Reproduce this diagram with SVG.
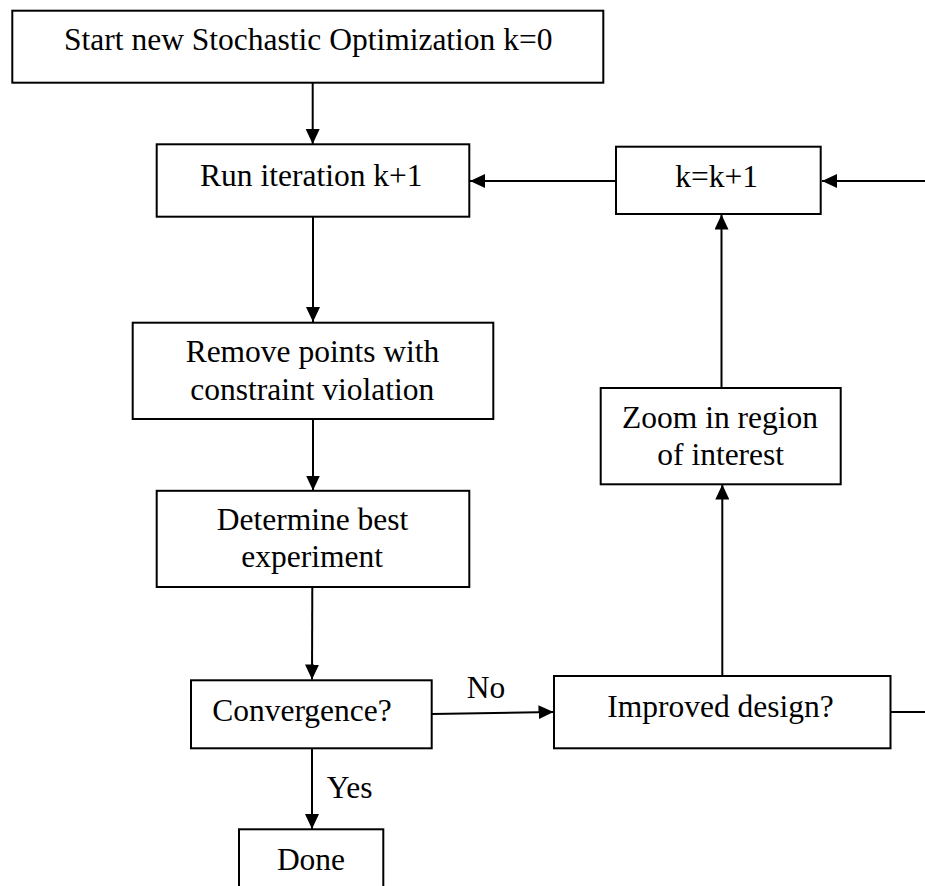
<svg xmlns="http://www.w3.org/2000/svg" width="925" height="886" viewBox="0 0 925 886">
<style>
.box{fill:#fff;stroke:#000;stroke-width:2}
.t{font-family:"Liberation Serif","Times New Roman",serif;font-size:31.5px;fill:#000;text-anchor:middle}
.l{font-family:"Liberation Serif","Times New Roman",serif;font-size:31.5px;fill:#000}
.c{fill:none;stroke:#000;stroke-width:2}
</style>
<defs>
<marker id="ah" viewBox="0 0 15 14" refX="15" refY="7" markerWidth="15" markerHeight="14" markerUnits="userSpaceOnUse" orient="auto">
<path d="M0,0 L15,7 L0,14 Z" fill="#000"/>
</marker>
</defs>
<rect width="925" height="886" fill="#fff"/>
<g id="connectors">
<line class="c" x1="312.7" y1="83" x2="312.7" y2="144" marker-end="url(#ah)"/>
<line class="c" x1="616" y1="181" x2="470" y2="181" marker-end="url(#ah)"/>
<line class="c" x1="926" y1="181" x2="822" y2="181" marker-end="url(#ah)"/>
<line class="c" x1="313" y1="217" x2="313" y2="322" marker-end="url(#ah)"/>
<line class="c" x1="313" y1="419" x2="313" y2="490.5" marker-end="url(#ah)"/>
<line class="c" x1="312.3" y1="587" x2="312" y2="679.5" marker-end="url(#ah)"/>
<line class="c" x1="432" y1="714" x2="553.5" y2="712" marker-end="url(#ah)"/>
<line class="c" x1="312" y1="748.5" x2="312" y2="829" marker-end="url(#ah)"/>
<line class="c" x1="722.3" y1="676" x2="722.3" y2="484.5" marker-end="url(#ah)"/>
<line class="c" x1="721.5" y1="388" x2="721.5" y2="214.5" marker-end="url(#ah)"/>
<line class="c" x1="890.5" y1="712" x2="926" y2="712"/>
<text class="l" x="466.7" y="698.3">No</text>
<text class="l" x="326.7" y="798.3">Yes</text>
</g>
<g id="start">
<rect class="box" x="12.3" y="10.7" width="591" height="72"/>
<text class="t" x="308.3" y="50">Start new Stochastic Optimization k=0</text>
</g>
<g id="run">
<rect class="box" x="156.7" y="144.3" width="312.6" height="72.4"/>
<text class="t" x="311.3" y="185.7">Run iteration k+1</text>
</g>
<g id="kinc">
<rect class="box" x="616" y="146.7" width="204.7" height="67.3"/>
<text class="t" x="716.7" y="186.7">k=k+1</text>
</g>
<g id="remove">
<rect class="box" x="132.7" y="322.7" width="360.6" height="96.3"/>
<text class="t" x="312.5" y="361.7">Remove points with</text>
<text class="t" x="312.3" y="400">constraint violation</text>
</g>
<g id="determine">
<rect class="box" x="156.7" y="490.8" width="312.6" height="96.2"/>
<text class="t" x="312.5" y="530">Determine best</text>
<text class="t" x="312.2" y="566.7">experiment</text>
</g>
<g id="zoom">
<rect class="box" x="600.7" y="388" width="240" height="96.3"/>
<text class="t" x="720" y="427.7">Zoom in region</text>
<text class="t" x="720.7" y="465">of interest</text>
</g>
<g id="convergence">
<rect class="box" x="191" y="680.3" width="240.7" height="68"/>
<text class="t" x="302" y="721">Convergence?</text>
</g>
<g id="improved">
<rect class="box" x="554" y="676" width="336.5" height="72.3"/>
<text class="t" x="720.5" y="716.7">Improved design?</text>
</g>
<g id="done">
<rect class="box" x="239" y="829.3" width="144.3" height="80"/>
<text class="t" x="311" y="870">Done</text>
</g>
</svg>
